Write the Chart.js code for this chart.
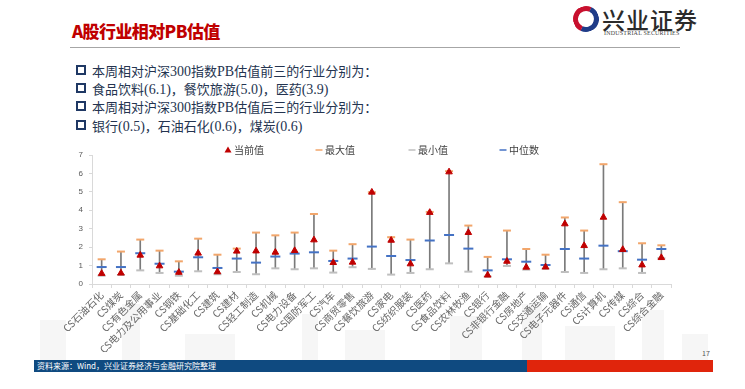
<!DOCTYPE html>
<html>
<head>
<meta charset="utf-8">
<script src="https://cdn.jsdelivr.net/npm/chart.js@4.4.1/dist/chart.umd.min.js"></script>
<style>
  body { margin: 0; width: 745px; height: 389px; background: #fff; position: relative; overflow: hidden;
         font-family: "Noto Sans CJK SC", sans-serif; }
  .abs { position: absolute; }
  #title { left: 72px; top: 18px; color: #C00000; font-size: 17px; font-weight: 900; letter-spacing: -0.6px; }
  #rule { left: 70px; top: 47px; width: 610px; height: 1px; background: #A6A6A6; }
  #logoMark { left: 573px; top: 6px; width: 16px; height: 16px; border-radius: 50%;
              border: 5px solid; border-color: #C8102E #1F3C88 #1F3C88 #C8102E; transform: rotate(-20deg); }
  #logoText { left: 602px; top: 2px; font-size: 23px; letter-spacing: 1px; color: #2b2b2b; font-weight: 500; }
  #logoSub { left: 604px; top: 30px; font-size: 6px; color: #444; font-family: "Liberation Serif", serif; letter-spacing: 0.2px; }
  .bl { left: 76px; font-size: 13px; color: #243450; white-space: nowrap; }
  .bl span.box { display: inline-block; width: 6px; height: 6px; border: 2px solid #1F3864; margin-right: 6px; vertical-align: 1px; }
  .bl .n { font-family: "Liberation Serif", serif; font-size: 14px; }
  .sky { background: #F6F6F6; }
  #chartBox { left: 55px; top: 140px; width: 625px; height: 212px; }
  #footBlue { left: 34px; top: 360px; width: 493px; height: 12px; background: #0F4A80; }
  #footRed { left: 527px; top: 360px; width: 186px; height: 12px; background: #E0250C; }
  #footText { left: 37px; top: 360px; font-size: 8px; line-height: 12px; color: #fff; }
  #page { left: 702px; top: 348px; font-size: 7px; color: #555; }
</style>
</head>
<body>
<div class="abs sky" style="left:40px;top:320px;width:26px;height:40px"></div>
<div class="abs sky" style="left:122px;top:304px;width:18px;height:56px"></div>
<div class="abs sky" style="left:185px;top:334px;width:50px;height:26px"></div>
<div class="abs sky" style="left:302px;top:314px;width:16px;height:46px"></div>
<div class="abs sky" style="left:345px;top:330px;width:40px;height:30px"></div>
<div class="abs sky" style="left:450px;top:316px;width:32px;height:44px"></div>
<div class="abs sky" style="left:522px;top:304px;width:20px;height:56px"></div>
<div class="abs sky" style="left:565px;top:326px;width:50px;height:34px"></div>
<div class="abs sky" style="left:642px;top:310px;width:22px;height:50px"></div>
<div class="abs sky" style="left:682px;top:334px;width:26px;height:26px"></div>

<div id="title" class="abs">A股行业相对PB估值</div>
<div id="rule" class="abs"></div>
<div id="logoMark" class="abs"></div>
<div id="logoText" class="abs">兴业证券</div>
<div id="logoSub" class="abs">INDUSTRIAL SECURITIES</div>

<div class="abs bl" style="top:61px"><span class="box"></span>本周相对沪深<span class="n">300</span>指数<span class="n">PB</span>估值前三的行业分别为：</div>
<div class="abs bl" style="top:79px"><span class="box"></span>食品饮料<span class="n">(6.1)</span>，餐饮旅游<span class="n">(5.0)</span>，医药<span class="n">(3.9)</span></div>
<div class="abs bl" style="top:97px"><span class="box"></span>本周相对沪深<span class="n">300</span>指数<span class="n">PB</span>估值后三的行业分别为：</div>
<div class="abs bl" style="top:116px"><span class="box"></span>银行<span class="n">(0.5)</span>，石油石化<span class="n">(0.6)</span>，煤炭<span class="n">(0.6)</span></div>

<div id="chartBox" class="abs"><canvas id="pbChart"></canvas></div>

<div id="page" class="abs">17</div>
<div id="footBlue" class="abs"></div>
<div id="footRed" class="abs"></div>
<div id="footText" class="abs">资料来源：Wind，兴业证券经济与金融研究院整理</div>

<script>
// Data
const industries = ['CS石油石化', 'CS煤炭', 'CS有色金属', 'CS电力及公用事业', 'CS钢铁', 'CS基础化工', 'CS建筑',
  'CS建材', 'CS轻工制造', 'CS机械', 'CS电力设备', 'CS国防军工', 'CS汽车', 'CS商贸零售', 'CS餐饮旅游', 'CS家电',
  'CS纺织服装', 'CS医药', 'CS食品饮料', 'CS农林牧渔', 'CS银行', 'CS非银行金融', 'CS房地产', 'CS交通运输',
  'CS电子元器件', 'CS通信', 'CS计算机', 'CS传媒', 'CS综合', 'CS综合金融'];

const currentPB = [0.57, 0.59, 1.56, 0.98, 0.63, 1.67, 0.66, 1.78, 1.79, 1.72, 1.81, 2.39, 1.16, 1.18, 4.98, 2.37,
  1.09, 3.88, 6.08, 2.79, 0.48, 1.23, 0.91, 0.92, 3.26, 2.08, 3.62, 1.87, 1.03, 1.43];
const maxPB = [1.34, 1.76, 2.41, 1.81, 1.23, 2.46, 1.59, 1.92, 2.79, 2.64, 2.79, 3.80, 1.81, 2.16, 4.98, 2.54,
  2.41, 3.91, 6.12, 3.17, 1.47, 2.90, 1.90, 1.59, 3.61, 2.90, 6.50, 4.44, 2.21, 2.10];
const minPB = [0.45, 0.49, 0.74, 0.60, 0.45, 0.69, 0.53, 0.65, 0.53, 0.85, 0.80, 0.85, 0.62, 0.91, 0.82, 0.51,
  0.60, 0.80, 1.12, 0.67, 0.40, 0.98, 0.78, 0.82, 0.65, 0.60, 0.80, 0.85, 0.60, 1.40];
const medianPB = [0.92, 0.92, 1.67, 1.10, 0.67, 1.45, 0.87, 1.38, 1.16, 1.49, 1.65, 1.72, 1.25, 1.38, 2.03, 1.52,
  1.30, 2.36, 2.66, 1.92, 0.74, 1.34, 1.21, 1.03, 1.90, 1.38, 2.08, 1.78, 1.32, 1.90];
const yTicks = [0, 1, 2, 3, 4, 5, 6, 7];

// Legend drawn on canvas at fixed spots, like the original slide
const legendPlugin = {
  id: 'slideLegend',
  afterDraw(chart, args, opts) {
    const ctx = chart.ctx;
    ctx.save();
    ctx.font = '10px "Noto Sans CJK SC"';
    ctx.textBaseline = 'middle';
    opts.items.forEach(item => {
      const ds = chart.data.datasets[item.index];
      const y = opts.y;
      if (ds.pointStyle === 'triangle') {
        ctx.fillStyle = ds.pointBackgroundColor;
        ctx.beginPath();
        ctx.moveTo(item.x, y - 3.5);
        ctx.lineTo(item.x + 3.5, y + 2.5);
        ctx.lineTo(item.x - 3.5, y + 2.5);
        ctx.closePath();
        ctx.fill();
      } else {
        ctx.strokeStyle = ds.pointBorderColor;
        ctx.lineWidth = 1.5;
        ctx.beginPath();
        ctx.moveTo(item.x - 3.5, y);
        ctx.lineTo(item.x + 3.5, y);
        ctx.stroke();
      }
      ctx.fillStyle = '#404040';
      ctx.fillText(ds.label, item.x + 6, y);
    });
    ctx.restore();
  }
};

function markerSet(label, data, style, color, radius, width, order) {
  return {
    type: 'line',
    label: label,
    data: data,
    showLine: false,
    pointStyle: style,
    pointRadius: radius,
    pointHoverRadius: radius,
    pointBorderWidth: width,
    pointBorderColor: color,
    pointBackgroundColor: color,
    order: order
  };
}

const ctx = document.getElementById('pbChart').getContext('2d');
new Chart(ctx, {
  type: 'bar',
  data: {
    labels: industries,
    datasets: [
      markerSet('当前值', currentPB, 'triangle', '#C00000', 3.8, 1, 0),
      markerSet('最大值', maxPB, 'line', '#F2A66B', 4, 2, 2),
      markerSet('最小值', minPB, 'line', '#BFBFBF', 4, 2, 3),
      markerSet('中位数', medianPB, 'line', '#4472C4', 5, 2, 1),
      {
        type: 'bar',
        label: 'range',
        data: minPB.map((v, i) => [v, maxPB[i]]),
        backgroundColor: '#7A7A7A',
        barThickness: 1,
        order: 5
      }
    ]
  },
  options: {
    responsive: true,
    maintainAspectRatio: false,
    animation: false,
    layout: { padding: { top: 15, right: 9, left: 0, bottom: 0 } },
    plugins: {
      legend: { display: false },
      tooltip: { enabled: false },
      slideLegend: {
        y: 10,
        items: [
          { index: 0, x: 173 },
          { index: 1, x: 264 },
          { index: 2, x: 357 },
          { index: 3, x: 448 }
        ]
      }
    },
    scales: {
      x: {
        offset: true,
        grid: { offset: true, drawOnChartArea: false, drawTicks: true, tickLength: 4, color: '#D9D9D9' },
        border: { color: '#D9D9D9' },
        ticks: { maxRotation: 45, minRotation: 45, autoSkip: false, padding: 1,
                 color: '#666666', font: { size: 10, family: '"Noto Sans CJK SC"' } },
        afterFit: s => { s.height = 68; }
      },
      y: {
        min: 0,
        max: 7,
        afterBuildTicks: s => { s.ticks = yTicks.map(v => ({ value: v })); },
        grid: { drawOnChartArea: false, drawTicks: true, tickLength: 3, color: '#D9D9D9' },
        border: { color: '#D9D9D9' },
        ticks: { color: '#595959', padding: 6, font: { size: 8, family: '"Liberation Sans"' } },
        afterFit: s => { s.width = 37; }
      }
    }
  },
  plugins: [legendPlugin]
});
</script>
</body>
</html>
